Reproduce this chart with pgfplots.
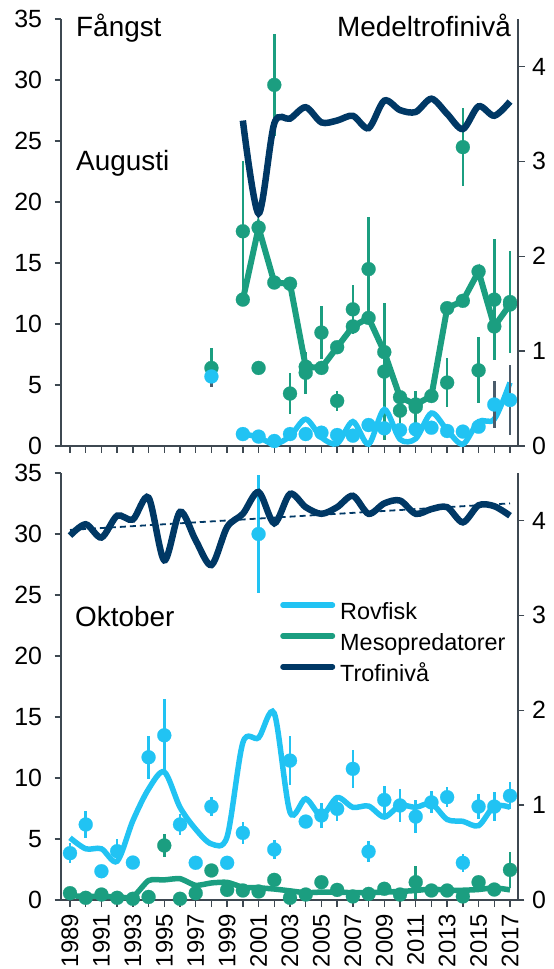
\documentclass[border=0pt]{standalone}
\usepackage{fontspec}
\setmainfont{Liberation Sans}
\usepackage{pgfplots}
\usepackage{pgfplotstable}
\pgfplotsset{compat=1.18}
\definecolor{rov}{HTML}{21C3F3}
\definecolor{meso}{HTML}{1B9E80}
\definecolor{trof}{HTML}{003865}
\definecolor{axc}{HTML}{3E4851}
\definecolor{errc}{HTML}{4B5C6B}

% ---------- August (top) ----------
\pgfplotstableread{
yr v e
1998 6.4 1.6
2000 17.6 5.8
2001 6.4 0
2002 29.6 4.2
2003 4.3 1.65
2004 6.0 1.7
2005 9.3 2.2
2006 3.7 0.8
2007 11.2 2.0
2008 14.5 4.3
2009 6.1 5.6
2010 2.9 1.0
2011 3.2 1.3
2013 5.2 2.0
2014 24.5 3.2
2015 6.2 2.7
2016 12.0 4.95
2017 11.8 4.2
}\augMesoPts
\pgfplotstableread{
yr v
2000 12.0
2001 17.9
2002 13.4
2003 13.3
2004 6.5
2005 6.4
2006 8.1
2007 9.8
2008 10.5
2009 7.7
2010 4.0
2011 3.4
2012 4.1
2013 11.3
2014 11.9
2015 14.3
2016 9.8
2017 11.6
}\augMesoLine
\pgfplotstableread{
yr v e
1998 5.7 0.9
2000 0.98 0
2001 0.77 0
2002 0.41 0
2003 0.98 0
2004 0.98 0
2005 1.09 0
2006 0.9 0
2007 0.85 0
2008 1.72 0
2009 1.45 0
2010 1.31 0
2011 1.37 0
2012 1.5 0
2013 1.23 0
2014 1.18 0
2015 1.58 0
2016 3.4 1.9
2017 3.77 2.9
}\augRovPts
\pgfplotstableread{
yr v
2000 1.0
2001 0.72
2002 0.15
2003 0.8
2004 2.2
2005 0.7
2006 0.2
2007 2.0
2008 0.15
2009 3.0
2010 0.55
2011 0.6
2012 2.7
2013 1.3
2014 0.15
2015 2.0
2016 2.2
2017 5.2
}\augRovLine
\pgfplotstableread{
yr v
2000 3.43
2001 2.45
2002 3.40
2003 3.45
2004 3.57
2005 3.41
2006 3.43
2007 3.48
2008 3.35
2009 3.64
2010 3.54
2011 3.52
2012 3.66
2013 3.50
2014 3.34
2015 3.58
2016 3.48
2017 3.63
}\augTrof

% ---------- October (bottom) ----------
\pgfplotstableread{
yr v e
1989 3.84 0.8
1990 6.19 1.1
1991 2.36 0
1992 4.0 1.0
1993 3.07 0
1994 11.7 1.75
1995 13.5 3.0
1996 6.19 0.9
1997 3.05 0
1998 7.66 0.75
1999 3.05 0
2000 5.5 0.9
2001 30.0 4.85
2002 4.14 0.75
2003 11.43 2.0
2004 6.43 0
2005 6.93 1.0
2006 7.47 1.0
2007 10.75 1.55
2008 3.97 0.85
2009 8.2 1.15
2010 7.75 1.35
2011 6.84 1.35
2012 8.0 0.9
2013 8.43 0.8
2014 3.05 0.75
2015 7.66 1.0
2016 7.66 1.2
2017 8.54 1.1
}\octRovPts
\pgfplotstableread{
yr v e
1989 0.56 0
1990 0.18 0
1991 0.45 0
1992 0.18 0
1993 0.1 0
1994 0.25 0
1995 4.47 0.95
1996 0.1 0
1997 0.56 0
1998 2.42 0
1999 0.83 0
2000 0.78 0
2001 0.7 0
2002 1.65 0
2003 0.18 0
2004 0.45 0
2005 1.46 0
2006 0.83 0
2007 0.29 0
2008 0.5 0
2009 0.92 0
2010 0.45 0
2011 1.46 1.35
2012 0.78 0
2013 0.78 0
2014 0.29 0
2015 1.46 0
2016 0.86 0
2017 2.47 1.45
}\octMesoPts
\pgfplotstableread{
yr v
1989 5.1
1990 4.2
1991 4.2
1992 3.18
1993 6.5
1994 9.1
1995 10.5
1996 7.6
1997 5.8
1998 4.6
1999 5.2
2000 12.9
2001 13.3
2002 15.3
2003 7.2
2004 8.3
2005 6.9
2006 8.4
2007 7.6
2008 7.7
2009 6.8
2010 7.75
2011 7.6
2012 7.9
2013 6.6
2014 6.45
2015 6.1
2016 7.7
2017 7.6
}\octRovLine
\pgfplotstableread{
yr v
1989 0.35
1990 0.3
1991 0.3
1992 0.25
1993 0.25
1994 1.6
1995 1.65
1996 1.75
1997 1.2
1998 1.4
1999 1.45
2000 1.05
2001 1.0
2002 0.9
2003 0.75
2004 0.6
2005 0.65
2006 0.65
2007 0.6
2008 0.6
2009 0.65
2010 0.7
2011 0.78
2012 0.9
2013 0.8
2014 0.8
2015 0.86
2016 1.0
2017 0.83
}\octMesoLine
\pgfplotstableread{
yr v
1989 3.84
1990 3.96
1991 3.82
1992 4.05
1993 4.01
1994 4.24
1995 3.58
1996 4.09
1997 3.79
1998 3.53
1999 3.93
2000 4.07
2001 4.30
2002 3.97
2003 4.28
2004 4.14
2005 4.07
2006 4.14
2007 4.26
2008 4.07
2009 4.18
2010 4.21
2011 4.07
2012 4.12
2013 4.14
2014 3.98
2015 4.16
2016 4.15
2017 4.05
}\octTrof
\pgfplotstableread{
yr v
1989 3.90
2017 4.18
}\octTrend

\pgfplotsset{
  base/.style={
    scale only axis, width=457bp, height=427bp,
    xmin=1988.427, xmax=2017.509,
    clip=false,
    axis line style={draw=axc, line width=1.4bp},
    tick style={draw=axc, line width=1.4bp},
    tick align=outside,
    major tick length=6.5bp, minor tick length=6.5bp,
    tick label style={font=\fontsize{25}{25}\selectfont},
    /pgf/number format/assume math mode=true,
    /pgf/number format/1000 sep={},
  },
  leftax/.style={base, axis x line*=bottom, axis y line*=left,
    ymin=0, ymax=35, ytick={0,5,...,35}, yticklabel shift=9bp},
  rightax/.style={base, axis x line=none, axis y line*=right,
    ymin=0, ymax=4.5, ytick={0,1,2,3,4}, yticklabel shift=4bp},
  pts/.style={only marks, mark=*, mark size=7bp, color=#1,
    mark options={fill=#1, draw=#1, line width=0.2bp},
    error bars/.cd, y dir=both, y explicit,
    error bar style={line width=2.5bp, color=#1}, error mark=none},
}

\begin{document}
\begin{tikzpicture}
\path[use as bounding box] (0bp,0bp) rectangle (554bp,-969bp);

% ===== top, left axis =====
\begin{axis}[leftax, at={(61bp,-446bp)}, anchor=south west,
  xtick={1989,...,2017}, xticklabels={}]
\addplot[pts=meso] table[x=yr, y=v, y error=e] {\augMesoPts};
\addplot[meso, line width=6bp, mark=*, mark size=7bp, mark options={fill=meso, line width=0.2bp}] table[x=yr, y=v] {\augMesoLine};
\addplot[rov, line width=5.5bp, smooth] table[x=yr, y=v] {\augRovLine};
\addplot[only marks, mark=*, mark size=7bp, color=rov, mark options={fill=rov, draw=rov, line width=0.2bp},
   error bars/.cd, y dir=both, y explicit, error bar style={line width=2.5bp, color=errc}, error mark=none]
   table[x=yr, y=v, y error=e] {\augRovPts};
\end{axis}
% ===== top, right axis =====
\begin{axis}[rightax, at={(61bp,-446bp)}, anchor=south west]
\addplot[trof, line width=6.5bp, smooth] table[x=yr, y=v] {\augTrof};
\end{axis}

% ===== bottom, left axis =====
\begin{axis}[leftax, at={(61bp,-900bp)}, anchor=south west,
  xtick={1989,1991,...,2017}, minor xtick={1990,1992,...,2016},
  xticklabel shift=4bp,
  xticklabel style={rotate=90, anchor=east, font=\fontsize{24}{24}\selectfont}]
\addplot[meso, line width=5.5bp, smooth, tension=0.35] table[x=yr, y=v] {\octMesoLine};
\addplot[pts=meso] table[x=yr, y=v, y error=e] {\octMesoPts};
\addplot[rov, line width=5.5bp, smooth] table[x=yr, y=v] {\octRovLine};
\addplot[pts=rov] table[x=yr, y=v, y error=e] {\octRovPts};
\end{axis}
% ===== bottom, right axis =====
\begin{axis}[rightax, at={(61bp,-900bp)}, anchor=south west,
  legend style={at={(0.4726,0.697)}, anchor=north west, draw=none, fill=none,
    inner sep=0pt, outer sep=0pt, row sep=8.5bp,
    font=\fontsize{23.5}{26}\selectfont,
    nodes={inner sep=0pt, text height=17bp, text depth=5bp},
    /tikz/every odd column/.append style={column sep=5bp}},
  legend cell align=left,
  legend image code/.code={\path (0bp,0bp); \draw[#1, line width=5.5bp, line cap=round] (2.75bp,8.6bp) -- (52.25bp,8.6bp);}]
\addlegendimage{rov}
\addlegendentry{Rovfisk}
\addlegendimage{meso}
\addlegendentry{Mesopredatorer}
\addplot[trof, line width=6.5bp, smooth] table[x=yr, y=v] {\octTrof};
\addlegendentry{Trofinivå}
\addplot[trof, line width=1.8bp, dash pattern=on 6bp off 4bp, forget plot] table[x=yr, y=v] {\octTrend};
\end{axis}

\node[anchor=base west, inner sep=0pt, font=\fontsize{28}{28}\selectfont] at (76bp,-36.7bp) {Fångst};
\node[anchor=base east, inner sep=0pt, font=\fontsize{28}{28}\selectfont] at (511bp,-36bp) {Medeltrofinivå};
\node[anchor=base west, inner sep=0pt, font=\fontsize{28}{28}\selectfont] at (76bp,-170bp) {Augusti};
\node[anchor=base west, inner sep=0pt, font=\fontsize{28}{28}\selectfont] at (75bp,-626.7bp) {Oktober};
\end{tikzpicture}
\end{document}
